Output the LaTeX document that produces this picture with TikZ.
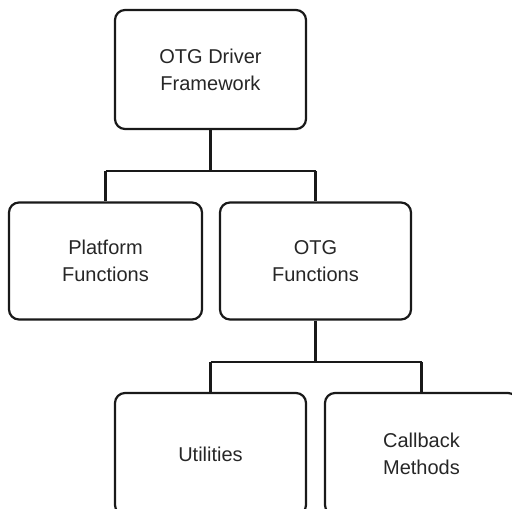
\documentclass[tikz,border=0pt]{standalone}
\usepackage{fontspec}
\setmainfont{Liberation Sans}
\begin{document}
\begin{tikzpicture}[x=1pt,y=1pt,
  box/.style={draw=black!90, line width=2.2pt, rounded corners=10pt, align=center,
    font=\fontsize{20}{27}\selectfont, text=black!85, inner sep=0pt},
  conn/.style={draw=black!90, line width=2.2pt}]
\useasboundingbox (0,0) rectangle (512,509);
\clip (0,0) rectangle (512,509);
\node[box, minimum width=191pt, minimum height=119pt] (top) at (210.5,439.5) {OTG Driver\\Framework};
\node[box, minimum width=193pt, minimum height=117pt] (plat) at (105.5,248) {Platform\\Functions};
\node[box, minimum width=191pt, minimum height=117pt] (otg) at (315.5,248) {OTG\\Functions};
\node[box, minimum width=191pt, minimum height=122pt] (util) at (210.5,55) {Utilities};
\node[box, minimum width=193pt, minimum height=122pt] (cb) at (421.5,55) {Callback\\Methods};
\coordinate (j1) at (210.5,338);
\coordinate (j2) at (315.5,147);
\draw[conn] (top.south) -- (j1);
\draw[conn] (plat.north |- j1) -- (otg.north |- j1);
\draw[conn] (plat.north |- j1) -- (plat.north);
\draw[conn] (otg.north |- j1) -- (otg.north);
\draw[conn] (otg.south) -- (j2);
\draw[conn] (util.north |- j2) -- (cb.north |- j2);
\draw[conn] (util.north |- j2) -- (util.north);
\draw[conn] (cb.north |- j2) -- (cb.north);
\end{tikzpicture}
\end{document}
